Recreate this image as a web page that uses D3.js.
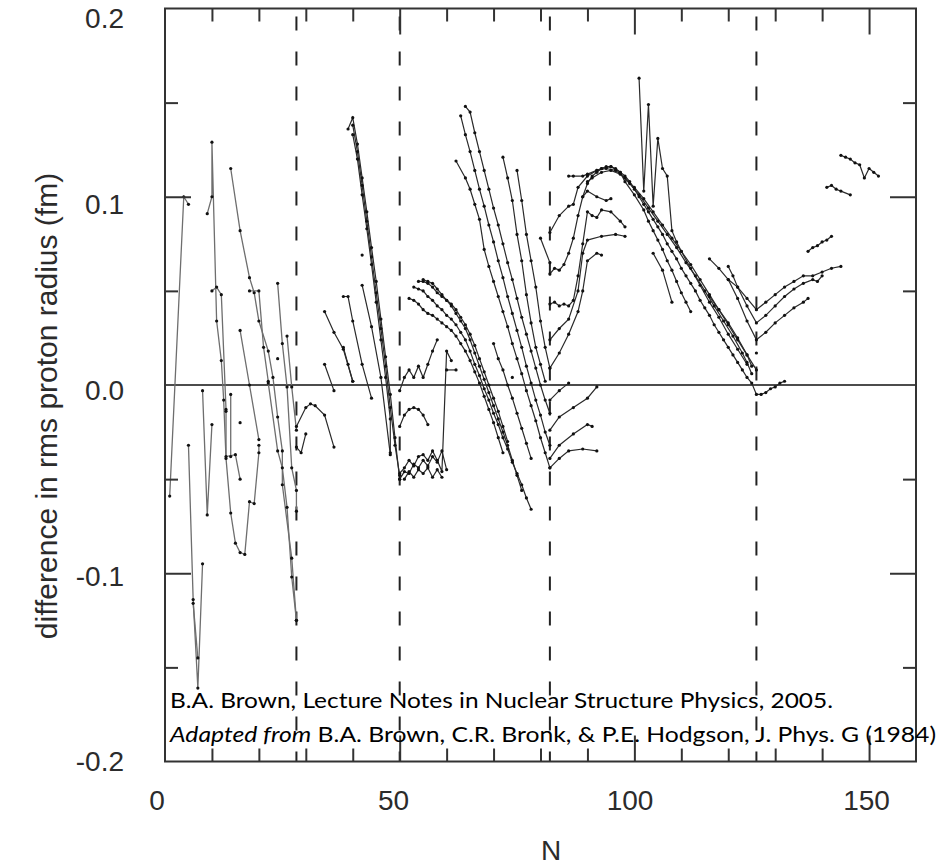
<!DOCTYPE html>
<html><head><meta charset="utf-8">
<script src="https://cdn.jsdelivr.net/npm/d3@7/dist/d3.min.js"></script>
<style>body{margin:0;background:#fff}svg{display:block}</style>
</head><body>
<svg id="c" width="937" height="865"></svg>
<script>
// ---------- axis / tick data ----------
const xMinorTicks = [10,20,30,40,60,70,80,90,110,120,130,140];
const xMajorTicks = [50,100,150];
const xTickLabels = [0,50,100,150];
const yMinorTicks = [-0.15,-0.05,0.05,0.15];
const yMajorTicks = [-0.1,0.1];
const yTickLabels = [-0.2,-0.1,0.0,0.1,0.2];
const magicN = [28,50,82,126];

// ---------- isotope chains [N, delta r (fm)] ----------
// light nuclei (N < 30)
const L01 = [[1,-0.059],[4,0.100],[5,0.096]];
const L02 = [[5,-0.032],[6,-0.114],[7,-0.161],[8,-0.095]];
const L03 = [[6,-0.116],[7,-0.145]];
const L04 = [[8,-0.003],[9,-0.069],[10,-0.021]];
const L05 = [[9,0.091],[10,0.100],[10,0.129],[11,0.034],[12,0.013],[12.5,-0.008],[13,-0.039],[14,-0.068],[15,-0.084],[16,-0.089],[17,-0.090],[18,-0.062],[19,-0.063],[20,-0.036],[20,-0.032]];
const L06 = [[10,0.050],[11,0.052],[12,0.048],[13,-0.013]];
const L07 = [[14,0.115],[16,0.082],[18,0.057],[19,0.049],[20,0.034],[22,0.018],[23,0.004],[24,-0.017],[25,-0.035],[25,-0.053],[27,-0.092],[28,-0.125]];
const L08 = [[16,0.029],[18,0.000],[20,-0.029]];
const L09 = [[13,-0.014],[13,-0.038],[15,-0.037],[16,-0.050]];
const L10 = [[14,-0.005],[14,-0.038]];
const L11 = [[22,0.001],[24,-0.035],[25,-0.044],[26,-0.065],[27,-0.102],[28,-0.125]];
const L12 = [[24,0.054],[25,0.022],[26,-0.001],[27,-0.044],[28,-0.056],[28,-0.067]];
const L13 = [[26,0.026],[27,-0.001],[28,-0.024]];
const L14 = [[18,0.050],[20,0.050],[21,0.020],[22,0.002]];
const L15 = [[16,-0.020]];
const L16 = [[24,0.014]];

// N = 28 - 50
const M01 = [[28,-0.022],[30,-0.012],[31,-0.010],[32,-0.011],[34,-0.016],[36,-0.033]];
const M02 = [[28,-0.033],[29,-0.036],[30,-0.026]];
const M03 = [[34,0.039],[36,0.028],[38,0.019],[40,0.002]];
const M04 = [[34,0.011],[36,-0.003]];
const M05 = [[38,0.047],[39,0.047],[40,0.034],[42,0.011],[44,-0.007]];
const M06 = [[42,0.053],[44,0.031],[46,0.004],[48,-0.037]];
const M07 = [[38,0.020],[39,0.011],[40,0.002]];
const M08 = [[42,0.069]];
const B01 = [[39,0.136],[40,0.142],[41,0.128],[42,0.110],[43,0.092],[44,0.073],[45,0.055],[46,0.035],[47,0.015],[48,-0.005],[49,-0.028],[50,-0.050]];
const B02 = [[40,0.138],[41,0.124],[42,0.106],[43,0.087],[44,0.068],[45,0.049],[46,0.030],[47,0.010],[48,-0.012],[49,-0.032],[50,-0.048]];
const B03 = [[40,0.133],[41,0.120],[42,0.101],[43,0.083],[44,0.064],[45,0.044],[46,0.024],[47,0.004],[48,-0.018],[48,-0.036]];

// N = 50 - 82
const C01 = [[50,-0.050],[51,-0.046],[52,-0.047],[53,-0.042],[54,-0.044],[55,-0.040],[56,-0.043],[57,-0.038],[58,-0.041],[59,-0.035],[60,-0.045]];
const C02 = [[50,-0.047],[51,-0.044],[52,-0.040],[53,-0.043],[54,-0.038],[55,-0.037],[56,-0.040],[57,-0.035],[58,-0.040],[59,-0.046],[60,0.018],[61,0.013]];
const C03 = [[51,-0.050],[52,-0.046],[53,-0.049],[54,-0.045],[55,-0.047],[56,-0.044],[57,-0.049],[58,-0.045],[59,-0.049]];
const C04 = [[60,0.008],[62,0.008]];
const C05 = [[50,-0.003],[51,0.004],[52,0.008],[53,0.004],[54,0.010],[55,0.004],[56,0.011],[57,0.018],[58,0.024]];
const C06 = [[50,-0.022],[51,-0.016],[52,-0.013],[53,-0.012],[54,-0.013],[55,-0.016],[56,-0.021]];
const U01 = [[54,0.055],[55,0.055],[56,0.054],[57,0.052],[58,0.049],[59,0.047],[60,0.045],[61,0.042],[62,0.038],[63,0.034],[64,0.030],[65,0.024],[66,0.017],[67,0.010],[68,0.003],[69,-0.004],[70,-0.011],[71,-0.018],[72,-0.025],[73,-0.032],[74,-0.040],[75,-0.048],[76,-0.056]];
const U02 = [[52,0.046],[53,0.045],[54,0.043],[55,0.040],[56,0.038],[57,0.037],[58,0.035],[59,0.033],[60,0.031],[61,0.029],[62,0.026],[63,0.022],[64,0.018],[65,0.013],[66,0.007],[67,0.001],[68,-0.006],[69,-0.013],[70,-0.020],[71,-0.028],[72,-0.036]];
const U03 = [[53,0.052],[54,0.051],[55,0.050],[56,0.047],[57,0.045],[58,0.042],[59,0.040],[60,0.037],[61,0.035],[62,0.032],[63,0.028],[64,0.024],[65,0.018],[66,0.011],[67,0.005],[68,-0.002],[69,-0.008],[70,-0.015],[71,-0.021],[72,-0.028],[73,-0.034],[74,-0.041],[75,-0.047],[76,-0.053],[77,-0.060],[78,-0.066]];
const U04 = [[55,0.056],[56,0.055],[57,0.054],[58,0.051],[59,0.048],[60,0.045],[61,0.043],[62,0.040],[63,0.036],[64,0.032],[65,0.027],[66,0.021],[67,0.014],[68,0.007],[69,0.000],[70,-0.007],[71,-0.014],[72,-0.022],[73,-0.030]];
const E01 = [[70,0.022],[71,0.014],[72,0.008],[73,0.000],[74,-0.007],[75,-0.015],[76,-0.023],[77,-0.031],[78,-0.039]];
const E02 = [[74,0.004]];
const T00 = [[62,0.119],[64,0.110],[65,0.104],[66,0.096],[67,0.088],[68,0.072],[69,0.063],[70,0.055],[71,0.047],[72,0.039],[73,0.031],[74,0.022],[75,0.014],[76,0.006],[77,-0.003],[78,-0.011],[79,-0.019],[80,-0.028],[81,-0.036],[82,-0.044]];
const T01 = [[63,0.143],[64,0.133],[65,0.124],[66,0.114],[67,0.104],[68,0.095],[69,0.085],[70,0.076],[71,0.066],[72,0.057],[73,0.047],[74,0.038],[75,0.029],[76,0.020],[77,0.010],[78,0.001],[79,-0.008],[80,-0.016],[81,-0.025],[82,-0.032]];
const T02 = [[64,0.148],[65,0.145],[66,0.134],[67,0.124],[68,0.114],[69,0.104],[70,0.094],[71,0.085],[72,0.075],[73,0.065],[74,0.056],[75,0.046],[76,0.036],[77,0.027],[78,0.018],[79,0.009],[80,0.000],[81,-0.008],[82,-0.015]];
const D04 = [[72,0.121],[73,0.110],[74,0.098],[75,0.080],[76,0.066],[77,0.048],[78,0.033],[79,0.020],[80,0.011],[81,0.002]];
const D05 = [[75,0.114],[76,0.098],[77,0.080],[78,0.066],[79,0.052],[80,0.034],[81,0.020],[82,0.009]];
const D06 = [[80,0.078],[82,0.065]];

// N = 82 - 126 and beyond
const Z01 = [[82,-0.044],[84,-0.039],[86,-0.035],[89,-0.034],[92,-0.035]];
const Z02 = [[82,-0.039],[84,-0.032],[87,-0.026],[90,-0.021],[91,-0.022]];
const Z03 = [[82,-0.024],[84,-0.017],[87,-0.012],[90,-0.007],[92,-0.001]];
const Z04 = [[82,-0.008],[84,-0.003],[86,0.001]];
const P01 = [[82,0.081],[84,0.090],[86,0.095],[87,0.096],[88,0.105],[90,0.111],[92,0.114],[93,0.115],[95,0.116],[97,0.113],[98,0.108],[100,0.101],[102,0.093],[103,0.087],[104,0.082],[105,0.077],[106,0.072],[107,0.066],[108,0.061],[109,0.055],[110,0.049],[111,0.044],[112,0.039]];
const P02 = [[82,0.059],[83,0.062],[84,0.061],[85,0.064],[86,0.070],[87,0.078],[88,0.090],[89,0.100],[90,0.107],[91,0.111],[92,0.113],[93,0.115],[94,0.116],[95,0.116],[96,0.115],[97,0.113],[98,0.111],[99,0.108],[100,0.104],[101,0.100],[102,0.096],[103,0.092],[104,0.088],[105,0.084],[106,0.080],[107,0.075],[108,0.071],[109,0.067],[110,0.062],[111,0.058],[112,0.054],[113,0.050],[114,0.045],[115,0.041],[116,0.037],[117,0.032],[118,0.028],[119,0.024],[120,0.020],[121,0.016],[122,0.012],[123,0.008],[124,0.004],[125,0.001],[126,-0.005],[127,-0.005],[128,-0.004],[129,-0.002],[130,-0.001],[131,0.001],[132,0.002]];
const P03 = [[82,0.043],[83,0.044],[84,0.042],[85,0.043],[86,0.042],[87,0.045],[88,0.058],[89,0.075],[90,0.092],[91,0.090],[92,0.089],[93,0.093],[95,0.092],[97,0.087],[98,0.084]];
const P04 = [[82,0.024],[84,0.030],[86,0.035],[88,0.050],[89,0.070],[90,0.077],[93,0.079],[96,0.080],[98,0.079]];
const P05 = [[82,0.009],[84,0.017],[86,0.027],[88,0.039],[89,0.050],[90,0.066],[92,0.070],[93,0.069]];
const P06 = [[86,0.111],[87,0.111],[89,0.111],[90,0.112],[92,0.114],[94,0.115],[96,0.114],[98,0.110],[100,0.105],[102,0.099],[104,0.092],[106,0.085],[108,0.078],[110,0.071],[112,0.064],[114,0.056],[116,0.048],[118,0.040],[120,0.033],[122,0.025],[124,0.016],[125,0.010]];
const P07 = [[89,0.100],[90,0.103],[92,0.100],[94,0.098],[95,0.099]];
const P08 = [[90,0.108],[91,0.110],[93,0.113],[95,0.114],[97,0.112],[99,0.107],[101,0.101],[103,0.094],[105,0.087],[107,0.080],[109,0.073],[111,0.065],[113,0.058],[115,0.050],[117,0.042],[119,0.034],[121,0.026],[123,0.017],[124,0.012],[125,0.006]];
const S01 = [[101,0.163],[102,0.103],[103,0.149],[104,0.095],[105,0.131],[106,0.115],[107,0.111],[108,0.082],[109,0.076],[110,0.071],[112,0.062],[114,0.053],[116,0.044],[118,0.036],[120,0.027],[122,0.019],[124,0.011]];
const S02 = [[104,0.070],[106,0.061],[108,0.044]];
const W01 = [[116,0.067],[118,0.062],[120,0.056],[122,0.052],[124,0.046],[126,0.040],[128,0.044],[130,0.048],[132,0.052],[134,0.055],[136,0.058],[138,0.058],[140,0.060],[142,0.062],[144,0.063]];
const W02 = [[120,0.063],[121,0.058],[122,0.052],[124,0.042],[126,0.033],[128,0.037],[130,0.042],[132,0.047],[134,0.051],[136,0.054],[138,0.056],[139,0.055],[140,0.058]];
const W03 = [[120,0.056],[122,0.046],[124,0.034],[126,0.024],[128,0.028],[130,0.033],[132,0.037],[134,0.041],[136,0.044],[137,0.046]];
const W04 = [[116,0.047],[118,0.040],[120,0.032],[122,0.024],[124,0.016],[126,0.008]];
const W05 = [[126,0.017]];
const H01 = [[137,0.071],[138,0.073],[139,0.074],[140,0.076],[141,0.077],[142,0.079]];
const H02 = [[141,0.105],[142,0.106],[143,0.104],[144,0.103],[146,0.101]];
const H03 = [[144,0.122],[145,0.121],[146,0.120],[147,0.118],[148,0.117],[149,0.110],[150,0.115],[151,0.113],[152,0.111]];

const lightChains = [L01,L02,L03,L04,L05,L06,L07,L08,L09,L10,L11,L12,L13,L14,L15,L16];
const heavyChains = [M01,M02,M03,M04,M05,M06,M07,M08,B01,B02,B03,
  C01,C02,C03,C04,C05,C06,U01,U02,U03,U04,E01,E02,T00,T01,T02,D04,D05,D06,
  Z01,Z02,Z03,Z04,P01,P02,P03,P04,P05,P06,P07,P08,S01,S02,W01,W02,W03,W04,W05,H01,H02,H03];

// ---------- drawing ----------
const svg = d3.select("#c");
const x = d3.scaleLinear().domain([0,160]).range([165,916]);
const y = d3.scaleLinear().domain([-0.2,0.2]).range([761.5,8.5]);
// scales used only for placing the tick labels as in the original figure
const xLab = d3.scaleLinear().domain([0,150]).range([156.5,866]);
const yLab = d3.scaleLinear().domain([-0.2,0.2]).range([762,19]);

// dashed magic-number lines
svg.append("g").selectAll("line").data(magicN).join("line")
  .attr("x1",d=>x(d)).attr("x2",d=>x(d))
  .attr("y1",y(0.2)+8).attr("y2",y(-0.2))
  .attr("stroke","#222").attr("stroke-width",2).attr("stroke-dasharray","14,21");

// zero line
svg.append("line").attr("x1",x(0)).attr("x2",x(160)).attr("y1",y(0)).attr("y2",y(0))
  .attr("stroke","#111").attr("stroke-width",1.6);

// chains
const line = d3.line().x(d=>x(d[0])).y(d=>y(d[1]));
const gC = svg.append("g");
gC.selectAll("path.l").data(lightChains).join("path").attr("class","l")
  .attr("d",line).attr("fill","none").attr("stroke","#6e6e6e").attr("stroke-width",1.3);
gC.selectAll("path.h").data(heavyChains).join("path").attr("class","h")
  .attr("d",line).attr("fill","none").attr("stroke","#2a2a2a").attr("stroke-width",1.2);
gC.selectAll("circle").data(lightChains.concat(heavyChains).flat()).join("circle")
  .attr("cx",d=>x(d[0])).attr("cy",d=>y(d[1])).attr("r",1.6).attr("fill","#111");

// inward ticks via d3 axes
function ax(gen, tx, ty){
  const g = svg.append("g").attr("transform",`translate(${tx},${ty})`).call(gen);
  g.select(".domain").remove();
  g.selectAll("line").attr("stroke","#333").attr("stroke-width",2);
  g.selectAll("text").remove();
}
ax(d3.axisBottom(x).tickValues(xMinorTicks).tickSize(-13),0,y(-0.2));
ax(d3.axisBottom(x).tickValues(xMajorTicks).tickSize(-26),0,y(-0.2));
ax(d3.axisTop(x).tickValues(xMinorTicks).tickSize(-13),0,y(0.2));
ax(d3.axisTop(x).tickValues(xMajorTicks).tickSize(-26),0,y(0.2));
ax(d3.axisLeft(y).tickValues(yMinorTicks).tickSize(-13),x(0),0);
ax(d3.axisLeft(y).tickValues(yMajorTicks).tickSize(-26),x(0),0);
ax(d3.axisRight(y).tickValues(yMinorTicks).tickSize(-13),x(160),0);
ax(d3.axisRight(y).tickValues(yMajorTicks).tickSize(-26),x(160),0);

// frame
svg.append("rect").attr("x",x(0)).attr("y",y(0.2)).attr("width",x(160)-x(0)).attr("height",y(-0.2)-y(0.2))
  .attr("fill","none").attr("stroke","#333").attr("stroke-width",2);

// tick labels
const labFont = "'Liberation Sans', Arial, sans-serif";
const labFill = "#2b2b2b";
const gxl = svg.append("g").attr("transform","translate(0,787)")
  .call(d3.axisBottom(xLab).tickValues(xTickLabels).tickSize(0).tickFormat(d3.format("d")));
gxl.select(".domain").remove();
gxl.selectAll("text").attr("font-family",labFont).attr("font-size","28px").attr("fill",labFill);
const gyl = svg.append("g").attr("transform","translate(124,0)")
  .call(d3.axisLeft(yLab).tickValues(yTickLabels).tickSize(0).tickPadding(0));
gyl.select(".domain").remove();
gyl.selectAll("text").attr("font-family",labFont).attr("font-size","28px").attr("fill",labFill)
  .text(d=>d3.format(".1f")(d).replace("\u2212","-"));

// axis titles
svg.append("text").attr("x",551).attr("y",860).attr("text-anchor","middle")
  .attr("font-family",labFont).attr("font-size","28px").attr("fill",labFill).text("N");
svg.append("text").attr("transform","translate(57,406) rotate(-90)").attr("text-anchor","middle")
  .attr("font-family",labFont).attr("font-size","30px").attr("fill",labFill)
  .text("difference in rms proton radius (fm)");

// citation
const citFont = "Lato, 'Open Sans', sans-serif";
svg.append("text").attr("x",170).attr("y",708).attr("font-family",citFont).attr("font-size","20.5px")
  .attr("fill","#000").attr("textLength",663).attr("lengthAdjust","spacingAndGlyphs")
  .text("B.A. Brown, Lecture Notes in Nuclear Structure Physics, 2005.");
const t2 = svg.append("text").attr("x",170).attr("y",742).attr("font-family",citFont).attr("font-size","20.5px")
  .attr("fill","#000").attr("textLength",766).attr("lengthAdjust","spacingAndGlyphs");
t2.append("tspan").attr("font-style","italic").text("Adapted from");
t2.append("tspan").text(" B.A. Brown, C.R. Bronk, & P.E. Hodgson, J. Phys. G (1984)");
</script>
</body></html>
